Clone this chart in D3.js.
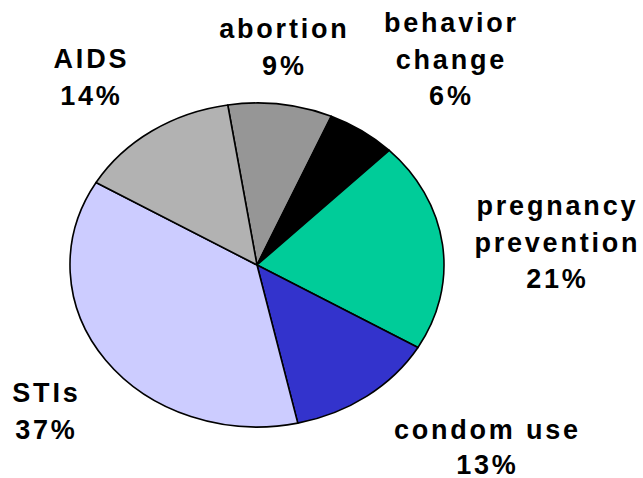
<!DOCTYPE html>
<html>
<head>
<meta charset="utf-8">
<script src="https://cdn.jsdelivr.net/npm/d3@7/dist/d3.min.js"></script>
<style>
  html, body { margin: 0; padding: 0; background: #fff; }
  svg { display: block; }
  text { font-family: "Liberation Sans", Arial, Helvetica, sans-serif; font-weight: bold; fill: #000; }
</style>
</head>
<body>
<svg id="chart" width="643" height="478"></svg>
<script>
// Data
const categories = ["abortion", "behavior change", "pregnancy prevention", "condom use", "STIs", "AIDS"];
const labelLines = [["abortion"], ["behavior", "change"], ["pregnancy", "prevention"], ["condom use"], ["STIs"], ["AIDS"]];
const values = [9, 6, 21, 13, 37, 14];
const colors = ["#969696", "#000000", "#00cc99", "#3333cc", "#ccccff", "#b2b2b2"];

// Layout (label anchor: x center, first baseline)
const labelLayout = [
  { x: 283, y: 38 },
  { x: 450, y: 32 },
  { x: 556, y: 215 },
  { x: 486, y: 439 },
  { x: 45, y: 402 },
  { x: 90, y: 68 }
];

const svg = d3.select("#chart");
const cx = 257, cy = 265, rx = 187, ry = 162;
const startDeg = -9;

const pie = d3.pie().sort(null).value(d => d)
  .startAngle(startDeg * Math.PI / 180)
  .endAngle((startDeg + 360) * Math.PI / 180);
const arcs = pie(values);
const arc = d3.arc().innerRadius(0).outerRadius(ry);

const g = svg.append("g")
  .attr("transform", `translate(${cx},${cy}) scale(${rx / ry},1)`);

g.selectAll("path")
  .data(arcs)
  .join("path")
  .attr("d", arc)
  .attr("fill", (d, i) => colors[i])
  .attr("stroke", "#000")
  .attr("stroke-width", 1.6)
  .attr("vector-effect", "non-scaling-stroke")
  .attr("stroke-linejoin", "round");

const fontSize = 27, spacing = 2.8;
const lineHs = [36.5, 36.5, 36.5, 34.5, 36.5, 36.5];
const lg = svg.append("g");
arcs.forEach((a, i) => {
  const lines = labelLines[i].concat([values[i] + "%"]);
  const t = lg.append("text")
    .attr("text-anchor", "middle")
    .attr("font-size", fontSize)
    .attr("letter-spacing", spacing);
  lines.forEach((ln, j) => {
    t.append("tspan")
      .attr("x", labelLayout[i].x + spacing / 2)
      .attr("y", labelLayout[i].y + j * lineHs[i])
      .text(ln);
  });
});
</script>
</body>
</html>
